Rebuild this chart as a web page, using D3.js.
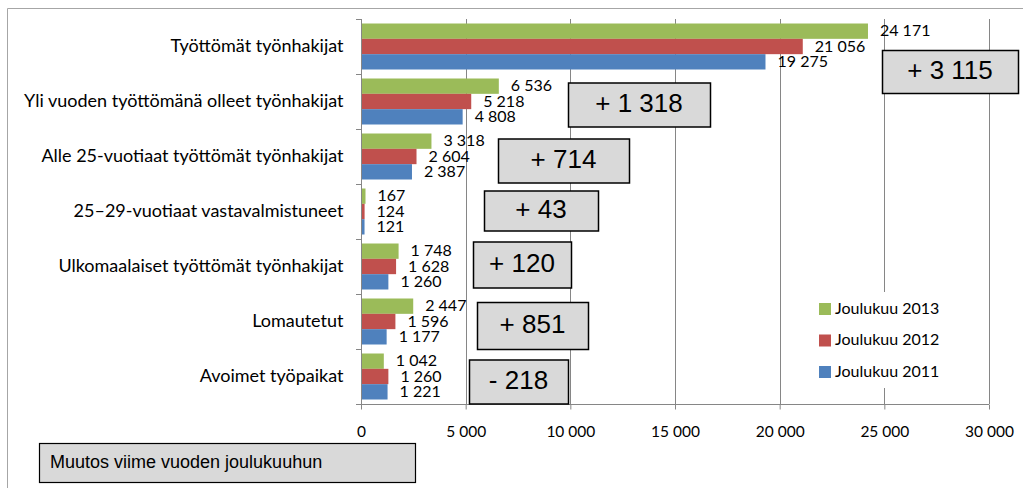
<!DOCTYPE html>
<html>
<head>
<meta charset="utf-8">
<script src="https://cdn.jsdelivr.net/npm/d3@7"></script>
<style>
  html, body { margin: 0; padding: 0; background: #fff; }
  svg { display: block; }
</style>
</head>
<body>
<div id="chart"></div>
<script>
(function () {
'use strict';

// Työnvälitystilasto, joulukuu 2011–2013
const categories = [
  "Työttömät työnhakijat",
  "Yli vuoden työttömänä olleet työnhakijat",
  "Alle 25-vuotiaat työttömät työnhakijat",
  "25–29-vuotiaat vastavalmistuneet",
  "Ulkomaalaiset työttömät työnhakijat",
  "Lomautetut",
  "Avoimet työpaikat"
];
const seriesNames = ["Joulukuu 2013", "Joulukuu 2012", "Joulukuu 2011"];
const dec2013 = [24171, 6536, 3318, 167, 1748, 2447, 1042];
const dec2012 = [21056, 5218, 2604, 124, 1628, 1596, 1260];
const dec2011 = [19275, 4808, 2387, 121, 1260, 1177, 1221];
const xTicks = [0, 5000, 10000, 15000, 20000, 25000, 30000];
const noteText = "Muutos viime vuoden joulukuuhun";

// placement of the change boxes (pixels): left, width, height, vertical shift from band centre
const changeBoxLayout = [
  { left: 882, w: 136, h: 43, dy: 25 },
  { left: 568, w: 142, h: 44, dy: 3 },
  { left: 498, w: 131, h: 44, dy: 4 },
  { left: 484, w: 114, h: 40, dy: -1 },
  { left: 473, w: 98,  h: 46, dy: -2 },
  { left: 477, w: 111, h: 47, dy: 4 },
  { left: 469, w: 99,  h: 44, dy: 5 }
];

const colors = { "Joulukuu 2013": "#9bbb59", "Joulukuu 2012": "#c0504d", "Joulukuu 2011": "#4f81bd" };
const gridColor = "#868686";
const FONT = "Lato, 'Open Sans', sans-serif";
const ARIAL = "'Liberation Sans', Arial, sans-serif";

const width = 1023, height = 488;
const plot = { left: 361, right: 989, top: 19, bottom: 404 };

const svg = d3.select("#chart").append("svg")
  .attr("width", width).attr("height", height)
  .attr("viewBox", `0 0 ${width} ${height}`);

// outer chart frame (only top and left edges are inside the picture)
svg.append("path")
  .attr("d", `M7.5,${height} V8.5 H${width}`)
  .attr("fill", "none").attr("stroke", "#a6a6a6").attr("stroke-width", 1);

const x = d3.scaleLinear().domain([0, 30000]).range([plot.left, plot.right]);
const y = d3.scaleBand().domain(categories).range([plot.top, plot.bottom]).padding(0);
const inner = 4.5;
const ySub = d3.scaleBand().domain(seriesNames).range([inner, y.bandwidth() - inner]).padding(0);

const rows = categories.map((c, i) => ({
  cat: c,
  values: [
    { s: seriesNames[0], v: dec2013[i] },
    { s: seriesNames[1], v: dec2012[i] },
    { s: seriesNames[2], v: dec2011[i] }
  ],
  change: dec2013[i] - dec2012[i]
}));

// vertical gridlines
svg.append("g").selectAll("line").data(xTicks.slice(1)).join("line")
  .attr("x1", d => Math.round(x(d)) + 0.5).attr("x2", d => Math.round(x(d)) + 0.5)
  .attr("y1", plot.top).attr("y2", plot.bottom)
  .attr("stroke", gridColor).attr("stroke-width", 1);

// x axis
const fmt = v => d3.format(",")(v).replace(/,/g, "\u00a0");
const xAxisG = svg.append("g").attr("transform", `translate(0,${plot.bottom + 0.5})`)
  .call(d3.axisBottom(x).tickValues(xTicks).tickSize(5).tickPadding(16).tickFormat(fmt));
xAxisG.select(".domain").attr("stroke", gridColor).attr("d", `M${plot.left},0H${plot.right}`);
xAxisG.selectAll(".tick line").attr("stroke", gridColor);
xAxisG.selectAll("text").attr("fill", "#000").attr("font-family", FONT).attr("font-size", 15.5);

// y axis
const yAxisG = svg.append("g").attr("transform", `translate(${plot.left + 0.5},0)`)
  .call(d3.axisLeft(y).tickSize(0).tickPadding(18));
yAxisG.select(".domain").attr("stroke", gridColor).attr("d", `M0,${plot.top}V${plot.bottom}`);
yAxisG.selectAll("text").attr("fill", "#000").attr("font-family", FONT).attr("font-size", 18);
// category separators
svg.append("g").selectAll("line").data(categories.concat([null])).join("line")
  .attr("x1", plot.left - 5).attr("x2", plot.left)
  .attr("y1", (d, i) => plot.top + i * y.bandwidth() + 0.5)
  .attr("y2", (d, i) => plot.top + i * y.bandwidth() + 0.5)
  .attr("stroke", gridColor);

// bars + labels
const groups = svg.append("g").selectAll("g").data(rows).join("g")
  .attr("transform", d => `translate(0,${y(d.cat)})`);

groups.selectAll("rect").data(d => d.values).join("rect")
  .attr("x", x(0) + 1)
  .attr("y", d => ySub(d.s))
  .attr("width", d => Math.max(1.5, x(d.v) - x(0)))
  .attr("height", ySub.bandwidth())
  .attr("fill", d => colors[d.s]);

groups.selectAll("text.val").data(d => d.values).join("text")
  .attr("class", "val")
  .attr("x", d => x(d.v) + 13)
  .attr("y", d => ySub(d.s) + ySub.bandwidth() / 2 + 1)
  .attr("dominant-baseline", "middle")
  .attr("font-family", FONT).attr("font-size", 16).attr("fill", "#000")
  .text(d => fmt(d.v));

// change boxes
const fmtChange = v => (v >= 0 ? "+ " : "- ") + fmt(Math.abs(v));
const boxes = svg.append("g").selectAll("g").data(rows).join("g")
  .attr("transform", (d, i) => {
    const L = changeBoxLayout[i];
    return `translate(${L.left},${y(d.cat) + y.bandwidth() / 2 + L.dy - L.h / 2})`;
  });
boxes.append("rect")
  .attr("x", 0.5).attr("y", 0.5)
  .attr("width", (d, i) => changeBoxLayout[i].w)
  .attr("height", (d, i) => changeBoxLayout[i].h)
  .attr("fill", "#d9d9d9").attr("stroke", "#000").attr("stroke-width", 1.5);
boxes.append("text")
  .attr("x", (d, i) => changeBoxLayout[i].w / 2)
  .attr("y", (d, i) => changeBoxLayout[i].h / 2 + 1)
  .attr("text-anchor", "middle").attr("dominant-baseline", "middle")
  .attr("font-family", ARIAL).attr("font-size", 26)
  .attr("fill", "#000")
  .text(d => fmtChange(d.change));

// legend
const legend = svg.append("g").attr("transform", "translate(806,292)");
legend.append("rect").attr("width", 170).attr("height", 96).attr("fill", "#fff");
const li = legend.selectAll("g").data(seriesNames).join("g")
  .attr("transform", (d, i) => `translate(13,${11 + i * 31.5})`);
li.append("rect").attr("width", 12).attr("height", 12).attr("fill", d => colors[d]);
li.append("text").attr("x", 16).attr("y", 6.5).attr("dominant-baseline", "middle")
  .attr("font-family", FONT).attr("font-size", 16).attr("fill", "#000")
  .text(d => d);

// note box
const note = svg.append("g").attr("transform", "translate(39,443)");
note.append("rect").attr("x", 0.5).attr("y", 0.5).attr("width", 376).attr("height", 39)
  .attr("fill", "#d9d9d9").attr("stroke", "#000").attr("stroke-width", 1.2);
note.append("text").attr("x", 11).attr("y", 20.5).attr("dominant-baseline", "middle")
  .attr("font-family", ARIAL).attr("font-size", 18)
  .attr("fill", "#000").text(noteText);
})();
</script>
</body>
</html>
